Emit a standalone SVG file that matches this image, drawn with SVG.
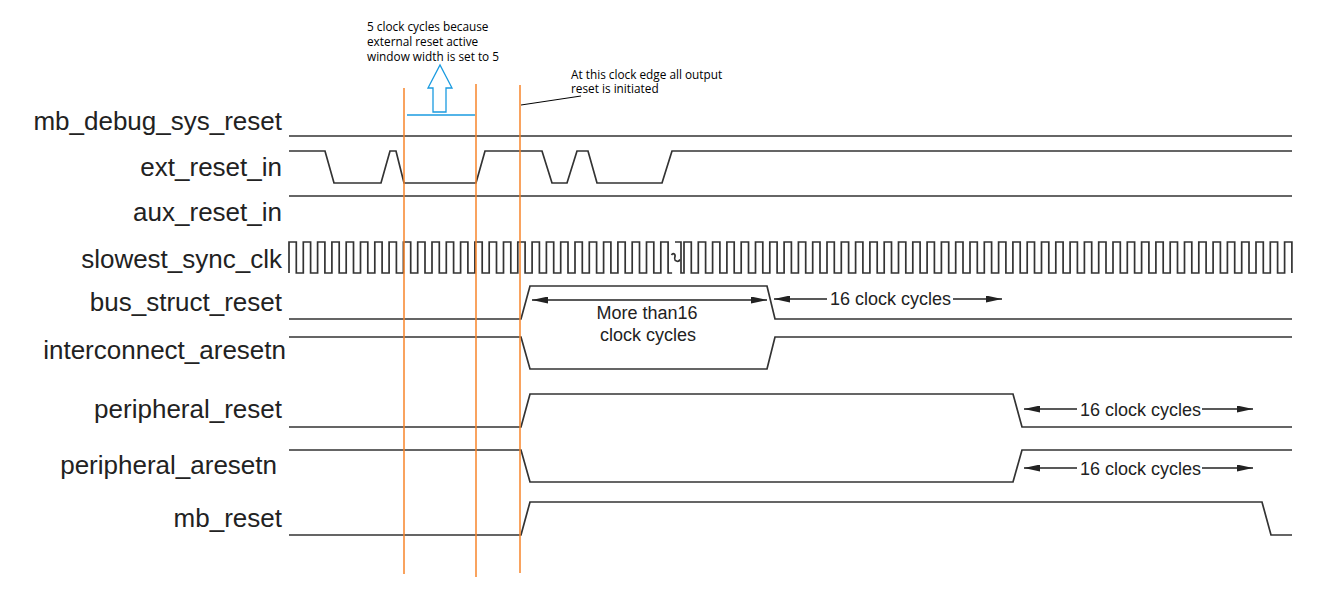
<svg xmlns="http://www.w3.org/2000/svg" width="1329" height="589" viewBox="0 0 1329 589">
<defs>
<marker id="arr" viewBox="0 0 16 7" refX="16" refY="3.5" markerWidth="16" markerHeight="7" markerUnits="userSpaceOnUse" orient="auto-start-reverse"><path d="M0,0 L16,3.5 L0,7 Z" fill="#222"/></marker>
<style>
.lbl{font-family:"Liberation Sans",Arial,sans-serif;font-size:26px;fill:#222;text-anchor:end}
.wave{fill:none;stroke:#333;stroke-width:1.7;stroke-linejoin:miter}
.dim{fill:none;stroke:#222;stroke-width:1.4}
.dimt{font-family:"Liberation Sans",Arial,sans-serif;font-size:18px;fill:#222}
.org{stroke:#f7842a;stroke-width:1.5}
.note{font-family:"Open Sans","Liberation Sans",sans-serif;font-size:11.8px;fill:#000}
</style>
</defs>
<rect width="1329" height="589" fill="#fff"/>

<g id="annotations">
<text class="note" x="367" y="31">5 clock cycles because</text>
<text class="note" x="367" y="46">external reset active</text>
<text class="note" x="367" y="61">window width is set to 5</text>
<path d="M433,112 V88 H428 L440,65 L452,88 H446 V112 Z" fill="#fff" stroke="#1a9be0" stroke-width="1.3"/>
<line x1="407" y1="115" x2="475" y2="115" stroke="#1a9be0" stroke-width="1.3"/>
<text class="note" x="571" y="79">At this clock edge all output</text>
<text class="note" x="571" y="93">reset is initiated</text>
<line x1="521" y1="105" x2="581" y2="96" stroke="#000" stroke-width="1"/>
</g>

<g id="sig_mb_debug_sys_reset">
<text class="lbl" x="282" y="130">mb_debug_sys_reset</text>
<path class="wave" d="M289,136 H1292"/>
</g>
<g id="sig_ext_reset_in">
<text class="lbl" x="282" y="176">ext_reset_in</text>
<path class="wave" d="M289,151 H325 L334,183 H381 L390,151 H396 L404,183 H476 L485,151 H542 L552,183 H567 L577,151 H588 L597,183 H662 L672,151 H1292"/>
</g>
<g id="sig_aux_reset_in">
<text class="lbl" x="282" y="221">aux_reset_in</text>
<path class="wave" d="M289,196 H1292"/>
</g>
<g id="sig_slowest_sync_clk">
<text class="lbl" x="282" y="268">slowest_sync_clk</text>
<path class="wave" d="M289,273
v-31 h7.3 v31 h7 v-31 h7.3 v31 h7 v-31 h7.3 v31 h7 v-31 h7.3 v31 h7 v-31 h7.3 v31 h7
v-31 h7.3 v31 h7 v-31 h7.3 v31 h7 v-31 h7.3 v31 h7 v-31 h7.3 v31 h7 v-31 h7.3 v31 h7
v-31 h7.3 v31 h7 v-31 h7.3 v31 h7 v-31 h7.3 v31 h7 v-31 h7.3 v31 h7 v-31 h7.3 v31 h7
v-31 h7.3 v31 h7 v-31 h7.3 v31 h7 v-31 h7.3 v31 h7 v-31 h7.3 v31 h7 v-31 h7.3 v31 h7
v-31 h7.3 v31 h7 v-31 h7.3 v31 h7 v-31 h7.3 v31 h7 v-31 h7.3 v31 h7 v-31 h7.3 v31 h7
v-31 h7.3 v31 h7
v-31 h7.3 v31 h4"/>
<path class="wave" stroke-width="1.5" d="M671.5,255 c1.5,-2.5 4,-1 3.5,1.5 s-1,3.5 1.5,4.5 c2,0.8 3,-0.5 3.5,-1.5"/>
<path class="wave" d="M675,242 H681 V273 H684
v-31 h7.3 v31 h7 v-31 h7.3 v31 h7 v-31 h7.3 v31 h7 v-31 h7.3 v31 h7 v-31 h7.3 v31 h7
v-31 h7.3 v31 h7 v-31 h7.3 v31 h7 v-31 h7.3 v31 h7 v-31 h7.3 v31 h7 v-31 h7.3 v31 h7
v-31 h7.3 v31 h7 v-31 h7.3 v31 h7 v-31 h7.3 v31 h7 v-31 h7.3 v31 h7 v-31 h7.3 v31 h7
v-31 h7.3 v31 h7 v-31 h7.3 v31 h7 v-31 h7.3 v31 h7 v-31 h7.3 v31 h7 v-31 h7.3 v31 h7
v-31 h7.3 v31 h7 v-31 h7.3 v31 h7 v-31 h7.3 v31 h7 v-31 h7.3 v31 h7 v-31 h7.3 v31 h7
v-31 h7.3 v31 h7 v-31 h7.3 v31 h7 v-31 h7.3 v31 h7 v-31 h7.3 v31 h7 v-31 h7.3 v31 h7
v-31 h7.3 v31 h7 v-31 h7.3 v31 h7 v-31 h7.3 v31 h7 v-31 h7.3 v31 h7 v-31 h7.3 v31 h7
v-31 h7.3 v31 h7 v-31 h7.3 v31 h7 v-31 h7.3 v31 h7 v-31 h7.3 v31 h7 v-31 h7.3 v31 h7
v-31 h7.3 v31 h7 v-31 h7.3 v31 h7
v-31 h7.3 v31"/>
</g>
<g id="sig_bus_struct_reset">
<text class="lbl" x="282" y="311">bus_struct_reset</text>
<path class="wave" d="M289,319 H521 L530,286 H767 L775,319 H1292"/>
<text class="dimt" x="647" y="319" text-anchor="middle">More than16</text>
<text class="dimt" x="648" y="341" text-anchor="middle">clock cycles</text>
<text class="dimt" x="830" y="305">16 clock cycles</text>
</g>
<g id="sig_interconnect_aresetn">
<text class="lbl" x="286" y="359">interconnect_aresetn</text>
<path class="wave" d="M289,337 H521 L530,369 H767 L775,337 H1292"/>
</g>
<g id="sig_peripheral_reset">
<text class="lbl" x="282" y="418">peripheral_reset</text>
<path class="wave" d="M289,427 H521 L530,394 H1013 L1022,427 H1292"/>
<text class="dimt" x="1080" y="416">16 clock cycles</text>
</g>
<g id="sig_peripheral_aresetn">
<text class="lbl" x="277" y="474">peripheral_aresetn</text>
<path class="wave" d="M289,450 H521 L530,482 H1013 L1022,450 H1292"/>
<text class="dimt" x="1080" y="475">16 clock cycles</text>
</g>
<g id="sig_mb_reset">
<text class="lbl" x="282" y="527">mb_reset</text>
<path class="wave" d="M289,535 H521 L530,502 H1262 L1271,535 H1292"/>
</g>

<g id="connectors">
<line class="dim" x1="532" y1="300" x2="767" y2="300" marker-start="url(#arr)" marker-end="url(#arr)"/>
<line class="dim" x1="827" y1="299" x2="774" y2="299" marker-end="url(#arr)"/>
<line class="dim" x1="953" y1="299" x2="1002" y2="299" marker-end="url(#arr)"/>
<line class="dim" x1="1077" y1="409" x2="1024" y2="409" marker-end="url(#arr)"/>
<line class="dim" x1="1202" y1="409" x2="1253" y2="409" marker-end="url(#arr)"/>
<line class="dim" x1="1077" y1="468" x2="1024" y2="468" marker-end="url(#arr)"/>
<line class="dim" x1="1202" y1="468" x2="1253" y2="468" marker-end="url(#arr)"/>
</g>

<g id="markers">
<line class="org" x1="404" y1="88" x2="404" y2="574"/>
<line class="org" x1="476" y1="84" x2="476" y2="577"/>
<line class="org" x1="520" y1="85" x2="520" y2="573"/>
</g>
</svg>
